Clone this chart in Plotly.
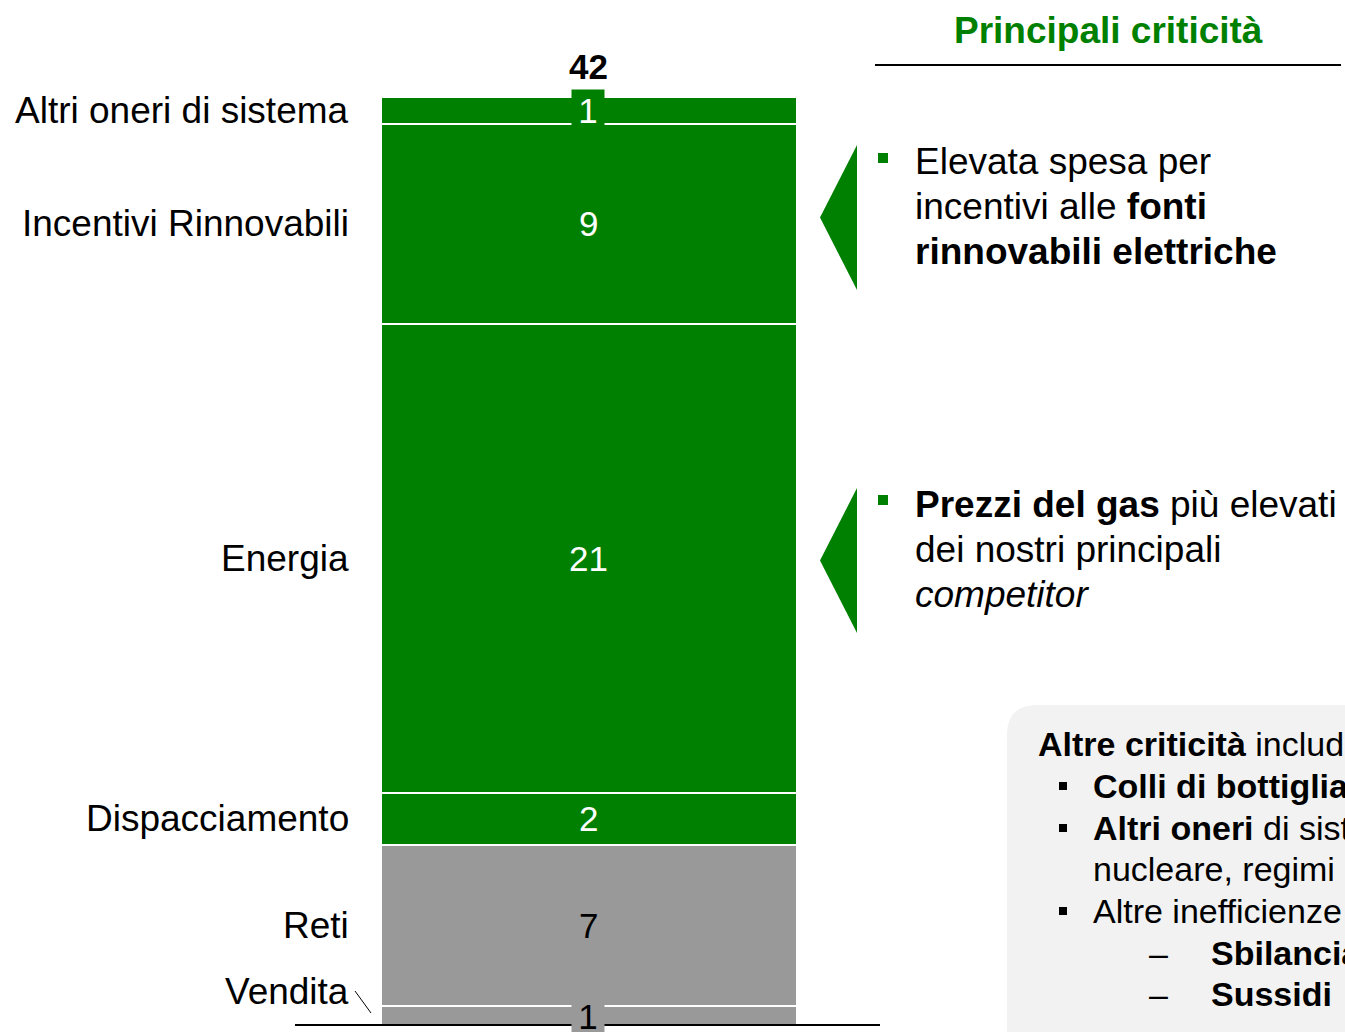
import plotly.graph_objects as go

# ---------------- data ----------------
categories = ["Vendita", "Reti", "Dispacciamento", "Energia",
              "Incentivi Rinnovabili", "Altri oneri di sistema"]
values = [0.86, 7.29, 2.35, 21.23, 9.05, 1.22]
value_labels = ["1", "7", "2", "21", "9", "1"]
total_label = "42"

# ---------------- styles ----------------
GREEN = "#008000"
GREY = "#999999"
bar_colors = [GREY, GREY, GREEN, GREEN, GREEN, GREEN]
value_font_colors = ["black", "black", "white", "white", "white", "white"]
FONT = "Liberation Sans, Arial, sans-serif"

W, H = 1345, 1032
BASE_PX, TOP_PX = 1025, 97
total = sum(values)
ppu = (BASE_PX - TOP_PX) / total
y_min = -(H - BASE_PX) / ppu
y_max = BASE_PX / ppu
BAR_X, BAR_W = 589, 416
LBL_X = 588

fig = go.Figure()
for cat, v, c in zip(categories, values, bar_colors):
    fig.add_trace(go.Bar(
        x=[BAR_X], y=[v], width=[BAR_W], name=cat,
        marker=dict(color=c, line=dict(color="white", width=2)),
        hoverinfo="skip", showlegend=False))

# invisible trace for the pixel-coordinate overlay axis
fig.add_trace(go.Scatter(x=[0], y=[0], yaxis="y2", mode="markers",
                         marker=dict(opacity=0), hoverinfo="skip",
                         showlegend=False))

annotations = []
shapes = []

# segment labels and category labels
cum = 0
for i, (cat, v) in enumerate(zip(categories, values)):
    mid = cum + v / 2
    cum += v
    a = dict(x=LBL_X, y=mid, xref="x", yref="y", text=value_labels[i],
             showarrow=False, font=dict(family=FONT, size=35,
                                        color=value_font_colors[i]),
             xanchor="center", yanchor="middle")
    if i == 0 or i == len(values) - 1:
        a.update(bgcolor=bar_colors[i], width=32, height=40, borderpad=0)
    if i == 0:
        a.update(yshift=0)
    annotations.append(a)
    ca = dict(x=351, y=mid, xref="x", yref="y", text=cat, showarrow=False,
              font=dict(family=FONT, size=37, color="black"),
              xanchor="right", yanchor="middle")
    if i == 0:
        ca.update(yshift=24)
    annotations.append(ca)

# total label
annotations.append(dict(x=LBL_X, y=total, xref="x", yref="y",
                        text="<b>" + total_label + "</b>", showarrow=False,
                        yshift=31, xanchor="center", yanchor="middle",
                        font=dict(family=FONT, size=35, color="black")))

# baseline & Vendita pointer
shapes.append(dict(type="line", xref="x", yref="y", x0=295, x1=880, y0=0, y1=0,
                   line=dict(color="black", width=2)))
shapes.append(dict(type="line", xref="x", yref="y2", x0=355, y0=991, x1=371, y1=1013,
                   line=dict(color="black", width=1)))

# right panel header
annotations.append(dict(x=1108, y=30, xref="x", yref="y2",
                        text="<b>Principali criticità</b>", showarrow=False,
                        xanchor="center", yanchor="middle",
                        font=dict(family=FONT, size=37, color=GREEN)))
shapes.append(dict(type="line", xref="x", yref="y2", x0=875, x1=1341, y0=65, y1=65,
                   line=dict(color="black", width=2)))

# arrows (left-pointing triangles)
for top, bot in [(145, 290), (488, 633)]:
    mid = (top + bot) / 2
    shapes.append(dict(type="path", xref="x", yref="y2",
                       path=f"M 857 {top} L 820 {mid} L 857 {bot} Z",
                       fillcolor=GREEN, line=dict(width=0)))

# bullets (x is the visible left edge; plotly adds ~3px padding)
def txt(x, y, s, size=37, anchor="left"):
    annotations.append(dict(x=x - 3, y=y, xref="x", yref="y2", text=s,
                            showarrow=False, xanchor=anchor, yanchor="middle",
                            font=dict(family=FONT, size=size, color="black")))

def square(x0, y0, s, color):
    shapes.append(dict(type="rect", xref="x", yref="y2", x0=x0, x1=x0 + s,
                       y0=y0, y1=y0 + s, fillcolor=color, line=dict(width=0)))

square(878, 153, 10, GREEN)
txt(916, 161, "Elevata spesa per")
txt(916, 206, "incentivi alle <b>fonti</b>")
txt(916, 251, "<b>rinnovabili elettriche</b>")

square(878, 495, 10, GREEN)
txt(916, 504, "<b>Prezzi del gas</b> più elevati")
txt(916, 549, "dei nostri principali")
txt(916, 594, "<i>competitor</i>")

# grey rounded box
shapes.append(dict(type="path", xref="x", yref="y2", layer="below",
                   path="M 1007 1100 L 1007 735 Q 1007 705 1037 705 L 1400 705 L 1400 1100 Z",
                   fillcolor="#f2f2f2", line=dict(width=0)))

txt(1039, 744, "<b>Altre criticità</b> includono:", size=34)
square(1059, 782, 8, "black")
txt(1094, 786, "<b>Colli di bottiglia</b>", size=34)
square(1059, 824, 8, "black")
txt(1094, 828, "<b>Altri oneri</b> di sistema", size=34)
txt(1094, 869, "nucleare, regimi", size=34)
square(1059, 907, 8, "black")
txt(1094, 911, "Altre inefficienze", size=34)
txt(1150, 953, "–", size=34)
txt(1212, 953, "<b>Sbilanciamenti</b>", size=34)
txt(1150, 994, "–", size=34)
txt(1212, 994, "<b>Sussidi</b>", size=34)

fig.update_layout(
    width=W, height=H, margin=dict(l=0, r=0, t=0, b=0),
    paper_bgcolor="white", plot_bgcolor="white",
    barmode="stack", bargap=0,
    xaxis=dict(range=[0, W], visible=False, fixedrange=True),
    yaxis=dict(range=[y_min, y_max], visible=False, fixedrange=True),
    yaxis2=dict(range=[H, 0], overlaying="y", visible=False, fixedrange=True),
    annotations=annotations, shapes=shapes,
)

fig.write_html("out.html", config={"displayModeBar": False},
               post_script="document.body.style.margin='0';"
                           "document.body.style.overflow='hidden';")
